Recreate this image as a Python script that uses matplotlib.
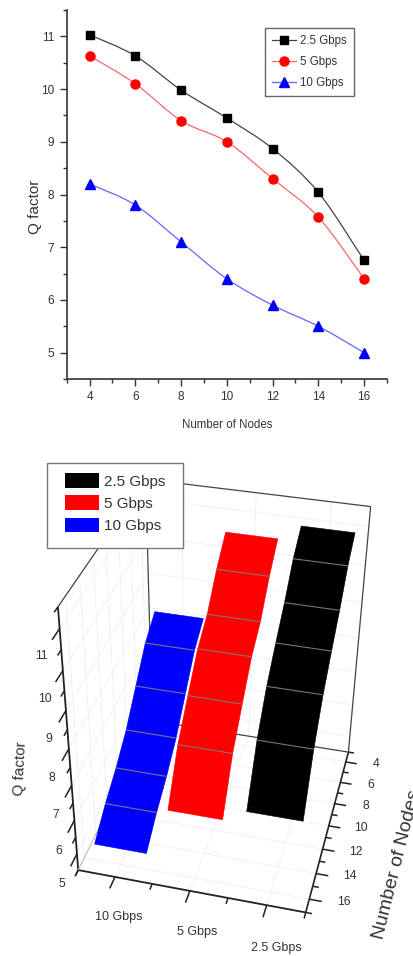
import numpy as np
import matplotlib
matplotlib.use('Agg')
import matplotlib.pyplot as plt
from matplotlib.lines import Line2D
from matplotlib.patches import PathPatch, Patch, Rectangle
from matplotlib.path import Path
from mpl_toolkits.mplot3d import proj3d
from mpl_toolkits.mplot3d.art3d import Poly3DCollection

nodes = [4, 6, 8, 10, 12, 14, 16]
q_25 = [11.03, 10.63, 9.98, 9.45, 8.87, 8.04, 6.75]
q_5 = [10.63, 10.10, 9.40, 9.00, 8.30, 7.57, 6.40]
q_10 = [8.20, 7.80, 7.10, 6.40, 5.90, 5.50, 5.00]
rates = ['2.5 Gbps', '5 Gbps', '10 Gbps']
cats_3d = ['10 Gbps', '5 Gbps', '2.5 Gbps']

W, H = 414, 956
SANS = ['Liberation Sans', 'DejaVu Sans']
DARK = '#333333'

fig = plt.figure(figsize=(W / 100, H / 100), dpi=100)


def box(l, t, r, b):
    return [l / W, 1 - b / H, (r - l) / W, (b - t) / H]


def smooth_path(x, y):
    # catmull-rom through the points, as bezier pieces
    x = np.array(x, float)
    y = np.array(y, float)
    verts = [(x[0], y[0])]
    codes = [Path.MOVETO]
    for i in range(len(x) - 1):
        a = max(i - 1, 0)
        d = min(i + 2, len(x) - 1)
        verts.append((x[i] + (x[i + 1] - x[a]) / 6, y[i] + (y[i + 1] - y[a]) / 6))
        verts.append((x[i + 1] - (x[d] - x[i]) / 6, y[i + 1] - (y[d] - y[i]) / 6))
        verts.append((x[i + 1], y[i + 1]))
        codes += [Path.CURVE4] * 3
    return Path(verts, codes)


# top panel
ax = fig.add_axes(box(66.7, 10, 387, 379))
styles = [(q_25, '#000000', '#444444', 's', 5.5), (q_5, '#ff0000', '#ff6666', 'o', 6.5), (q_10, '#0000ff', '#6666ff', '^', 6.5)]
handles = []
for (vals, c, lc, m, ms), name in zip(styles, rates):
    ax.add_patch(PathPatch(smooth_path(nodes, vals), fill=False, edgecolor=lc, lw=0.9))
    ax.plot(nodes, vals, ls='none', marker=m, ms=ms, color=c)
    handles.append(Line2D([], [], color=lc, lw=0.9, marker=m, ms=ms, mfc=c, mec=c, label=name))
ax.set_xlim(3, 17)
ax.set_ylim(4.5, 11.5)
ax.set_xticks(nodes)
ax.set_xticks(range(3, 18), minor=True)
ax.set_yticks(range(5, 12))
ax.set_yticks(np.arange(4.5, 11.6, 0.5), minor=True)
ax.spines['top'].set_visible(False)
ax.spines['right'].set_visible(False)
for side in ['left', 'bottom']:
    ax.spines[side].set_color(DARK)
    ax.spines[side].set_linewidth(1.2)
ax.tick_params(which='major', length=5, width=1, color=DARK, labelcolor=DARK, labelsize=8.5, pad=4)
ax.tick_params(which='minor', length=3, width=1, color=DARK)
for t in ax.get_xticklabels() + ax.get_yticklabels():
    t.set_family(SANS)
ax.set_xlabel('Number of Nodes', family=SANS, fontsize=8.3, color=DARK)
ax.set_ylabel('Q factor', family=SANS, fontsize=11, color=DARK)
ax.xaxis.set_label_coords(0.5, -0.108)
ax.yaxis.set_label_coords(-0.077, 0.466)
leg = ax.legend(handles=handles, loc='upper left', bbox_to_anchor=(0.619, 0.952), borderaxespad=0,
                prop={'family': SANS, 'size': 8.3}, handlelength=2.1, handletextpad=0.35,
                labelspacing=0.8, borderpad=0.6, fancybox=False, framealpha=1, edgecolor='#666666', numpoints=1)
for t in leg.get_texts():
    t.set_color(DARK)

# bottom panel, camera
size = 453.2
left, bottom = -9.32, 33.69
ax3 = fig.add_axes([left / W, bottom / H, size / W, size / H], projection='3d', computed_zorder=False)
x0, x1 = 0.5, 3.5
y0, y1 = 3, 17
z0, z1 = 4.5, 11.5
ax3.set_xlim(x0, x1)
ax3.set_ylim(y1, y0)
ax3.set_zlim(z0, z1)
ax3.view_init(35.304, -76.591, -0.863)
ax3.set_proj_type('persp', focal_length=0.5002)
ax3.set_box_aspect((1.0155, 1.1325, 1.3511))
ax3.set_axis_off()

GRID = '#efefef'
FRAME = '#444444'
TICK = '#222222'


def seg(a, b, color=FRAME, lw=1.0, z=1):
    ax3.plot([a[0], b[0]], [a[1], b[1]], [a[2], b[2]], color=color, lw=lw, zorder=z, solid_capstyle='butt')


def label3(x, y, z, s, size):
    # flat text at the projected spot
    u, v, _ = proj3d.proj_transform(x, y, z, ax3.get_proj())
    ax3.text2D(u, v, s, transform=ax3.transData, family=SANS, fontsize=size, color=DARK, ha='center', va='center')


# grid on the walls and floor
for c in [1, 2, 3]:
    seg((c, y0, z0), (c, y1, z0), GRID, 0.6)
    seg((c, y0, z0), (c, y0, z1), GRID, 0.6)
for n in nodes:
    seg((x0, n, z0), (x1, n, z0), GRID, 0.6)
    seg((x0, n, z0), (x0, n, z1), GRID, 0.6)
for v in range(5, 12):
    seg((x0, y0, v), (x1, y0, v), GRID, 0.6)
    seg((x0, y0, v), (x0, y1, v), GRID, 0.6)

# box edges
seg((x0, y1, z0), (x1, y1, z0), TICK, 1.3, 2)
seg((x1, y1, z0), (x1, y0, z0), TICK, 1.2, 2)
seg((x0, y1, z0), (x0, y1, z1), TICK, 1.3, 2)
seg((x0, y1, z1), (x0, y0, z1), FRAME, 0.9, 2)
seg((x0, y0, z1), (x1, y0, z1), FRAME, 0.9, 2)
seg((x1, y0, z1), (x1, y0, z0), FRAME, 0.9, 2)
seg((x1, y0, z0), (x0, y0, z0), FRAME, 0.9, 2)
seg((x0, y0, z0), (x0, y0, z1), FRAME, 0.9, 2)
seg((x0, y0, z0), (x0, y1, z0), '#bbbbbb', 0.8, 2)

# ticks
for v in np.arange(4.5, 11.6, 0.5):
    seg((x0, y1, v), (x0, y1 + (1.0 if v == int(v) else 0.5), v), TICK, 1.1, 2)
for c in np.arange(0.5, 3.6, 0.5):
    seg((c, y1, z0), (c, y1 + (0.9 if c == int(c) else 0.45), z0), TICK, 1.1, 2)
for n in range(3, 18):
    seg((x1, n, z0), (x1 + (0.16 if n % 2 == 0 else 0.08), n, z0), TICK, 1.1, 2)

for v in range(5, 12):
    label3(x0, 19.4, v, str(v), 8.8)
for c, name in zip([1, 2, 3], cats_3d):
    label3(c + 0.27, 19.8, z0, name, 9)
for n in nodes:
    label3(x1 + 0.43, n - 0.25, z0, str(n), 8.8)

# ribbons
half = 0.35
series_3d = [(1, q_10, '#0000ff', 3), (2, q_5, '#ff0000', 4), (3, q_25, '#000000', 5)]
for c, vals, col, zo in series_3d:
    lft = [(c - half, n, v) for n, v in zip(nodes, vals)]
    rgt = [(c + half, n, v) for n, v in zip(nodes, vals)]
    ax3.add_collection3d(Poly3DCollection([lft + rgt[::-1]], facecolor=col, edgecolor=col, linewidth=0.4, zorder=zo))
    for n, v in zip(nodes[1:-1], vals[1:-1]):
        seg((c - half, n, v), (c + half, n, v), '#777777', 0.8, zo)
ax3.set_xlim(x0, x1)
ax3.set_ylim(y1, y0)
ax3.set_zlim(z0, z1)

fig.text(20 / W, 1 - 768 / H, 'Q factor', family=SANS, fontsize=11, color=DARK, rotation=87, ha='center', va='center')
fig.text(397 / W, 1 - 865 / H, 'Number of Nodes', family=SANS, fontsize=14, color=DARK, rotation=76, ha='center', va='center')

# legend of the bottom panel
fig.add_artist(Rectangle((46.7 / W, 1 - 547.7 / H), 136.6 / W, 84.4 / H, transform=fig.transFigure,
                         facecolor='white', edgecolor='#777777', lw=1, zorder=5))
leg2 = fig.legend(handles=[Patch(facecolor=c, label=n) for c, n in zip(['#000000', '#ff0000', '#0000ff'], rates)],
                  loc='upper left', bbox_to_anchor=(65 / W, 1 - 473 / H), borderaxespad=0, borderpad=0,
                  frameon=False, prop={'family': SANS, 'size': 11}, handlelength=2.2, handleheight=1.1,
                  handletextpad=0.35, labelspacing=0.45)
leg2.set_zorder(6)
for t in leg2.get_texts():
    t.set_color(DARK)

fig.savefig('out.png', dpi=100)
